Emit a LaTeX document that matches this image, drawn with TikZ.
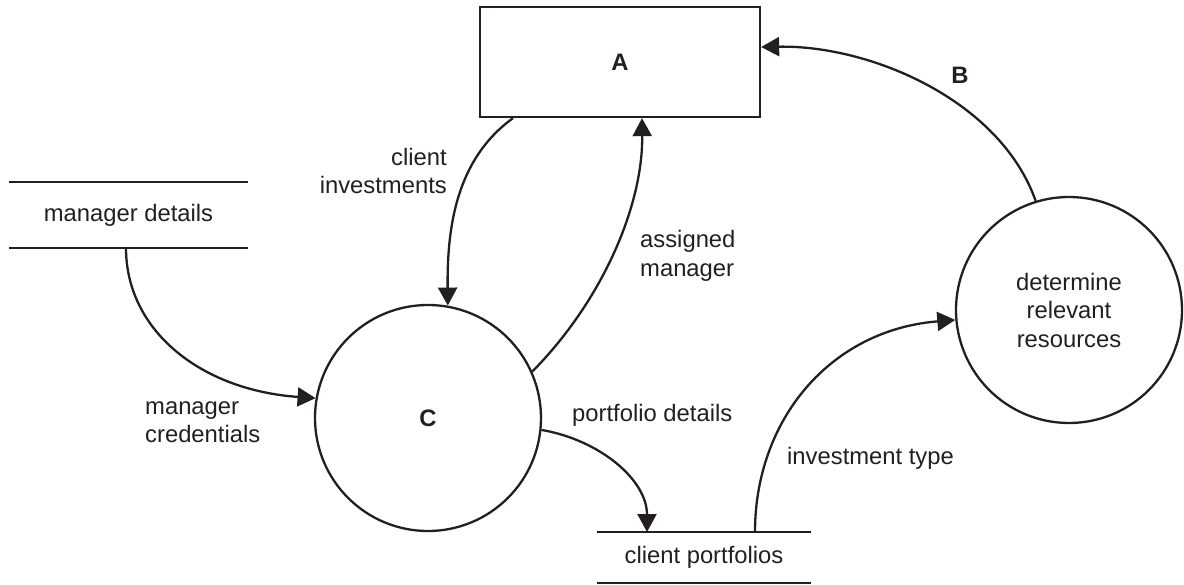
\documentclass[tikz,border=0pt]{standalone}
\usepackage{fontspec}
\setmainfont{Liberation Sans}
\usetikzlibrary{arrows.meta}
\definecolor{ink}{HTML}{231F20}
\begin{document}
\begin{tikzpicture}[x=1pt,y=-1pt,
  every node/.style={text=ink, font=\fontsize{23.8}{28.5}\selectfont},
  proc/.style={draw=ink, line width=2.3pt, circle, minimum size=226pt, inner sep=0pt, align=center},
  entity/.style={draw=ink, line width=2.3pt, rectangle, minimum width=280pt, minimum height=110pt, inner sep=0pt, font=\fontsize{23.8}{28.5}\selectfont\bfseries},
  store/.style={rectangle, inner sep=0pt, outer sep=0pt},
  flow/.style={draw=ink, line width=2.3pt, -{Triangle[length=18pt,width=19pt]}},
  lbl/.style={inner sep=0pt, align=left}
]
\useasboundingbox (0,0) rectangle (1184,585);

% nodes
\node[entity] (A) at (620,62) {A};
\node[proc, font=\fontsize{23.8}{28.5}\selectfont\bfseries] (C) at (428,418) {C};
\node[proc] (R) at (1069,310) {determine\\relevant\\resources};
\node[store, minimum width=239pt, minimum height=66pt] (MD) at (128.5,215) {manager details};
\node[store, minimum width=214pt, minimum height=51pt] (CP) at (704,557.5) {client portfolios};

% data store lines
\draw[ink, line width=2.3pt] (MD.north west) -- (MD.north east);
\draw[ink, line width=2.3pt] (MD.south west) -- (MD.south east);
\draw[ink, line width=2.3pt] (CP.north west) -- (CP.north east);
\draw[ink, line width=2.3pt] (CP.south west) -- (CP.south east);

% flows
\draw[flow] ([xshift=-107pt]A.south) .. controls (455,160) and (447,230) .. (C.80.5);
\draw[flow] (C.24.3) .. controls (603,300) and (643,205) .. ([xshift=22pt]A.south);
\draw[flow] (R.107) .. controls (1000,100) and (870,45) .. ([yshift=15pt]A.east);
\draw[flow] ([xshift=-2.5pt]MD.south) .. controls (126,330) and (200,390) .. (C.170);
\draw[flow] (C.-6.5) .. controls (600,440) and (647,480) .. ([xshift=-57pt]CP.north);
\draw[flow] ([xshift=51pt]CP.north) .. controls (755,420) and (830,330) .. (R.185.5);

% labels
\node[lbl, align=right, anchor=east] (l1) at (447,171) {client\\investments};
\node[lbl, anchor=west] (l2) at (640,256) {assigned\\manager};
\node[lbl, font=\fontsize{23.8}{28.5}\selectfont\bfseries] (l3) at (960,75) {B};
\node[lbl, anchor=west] (l4) at (145,422) {manager\\credentials};
\node[lbl, anchor=west] (l5) at (572,415) {portfolio details};
\node[lbl, anchor=west] (l6) at (787,458) {investment type};
\end{tikzpicture}
\end{document}
